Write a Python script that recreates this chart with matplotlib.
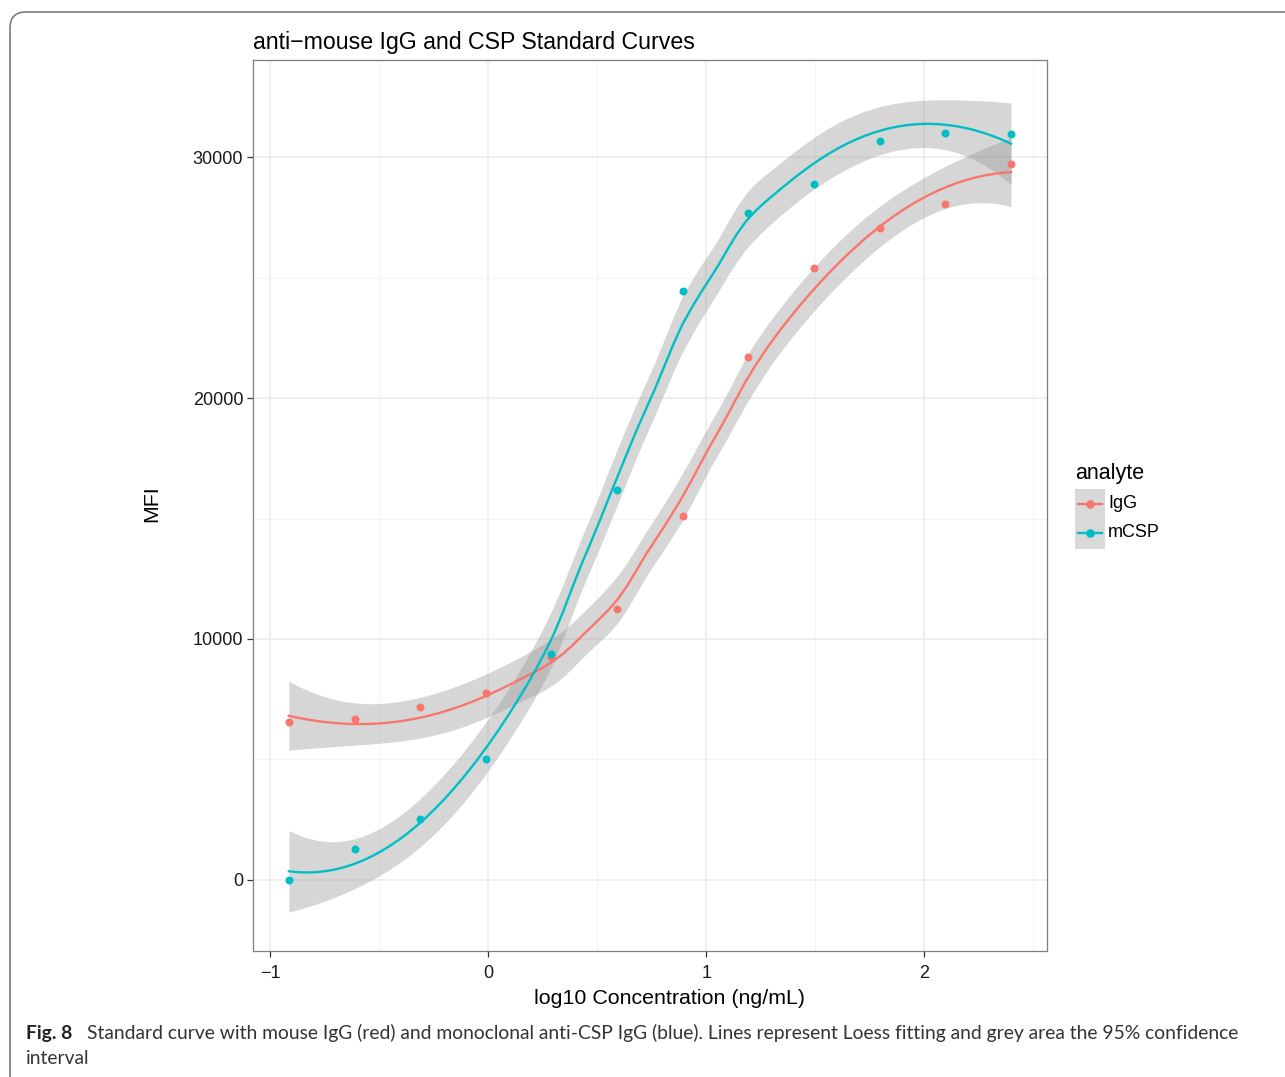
"""Standard curves for anti-mouse IgG and CSP with loess fits"""

import math

import numpy as np
import matplotlib
matplotlib.use("Agg")
import matplotlib.pyplot as plt
from matplotlib.patches import FancyBboxPatch, Rectangle
from matplotlib.lines import Line2D
from matplotlib.transforms import IdentityTransform

# two-fold dilution series, ng/mL
conc_ng_ml = [250, 125, 62.5, 31.25, 15.625, 7.8125, 3.90625, 1.953125,
              0.9765625, 0.48828125, 0.244140625, 0.1220703125]
igg_mfi = [29710, 28050, 27054, 25394, 21701, 15104, 11245, 9253,
           7759, 7178, 6680, 6556]
mcsp_mfi = [30954, 30996, 30664, 28880, 27676, 24440, 16183, 9378,
            5021, 2531, 1286, 0]

analytes = ["IgG", "mCSP"]
colors = {"IgG": "#F8766D", "mCSP": "#00BFC4"}

x_ticks = [-1, 0, 1, 2]
x_tick_labels = ["\u22121", "0", "1", "2"]
y_ticks = [0, 10000, 20000, 30000]

W, H = 1285, 1077
DPI = 100
FONT = "Liberation Sans"


def t_quantile(p, df):
    """Student t quantile via bisection on a numerically integrated cdf."""
    c = math.exp(math.lgamma((df + 1) / 2) - math.lgamma(df / 2)) / math.sqrt(df * math.pi)

    def cdf(t):
        u = np.linspace(0, t, 4001)
        f = c * (1 + u**2 / df) ** (-(df + 1) / 2)
        return 0.5 + np.trapezoid(f, u)

    lo, hi = 0.0, 50.0
    for _ in range(80):
        mid = 0.5 * (lo + hi)
        if cdf(mid) < p:
            lo = mid
        else:
            hi = mid
    return 0.5 * (lo + hi)


def loess(x, y, xs, span=0.75, level=0.95):
    """Local quadratic fit with tricube weights, like R's loess defaults."""
    n = len(x)
    q = int(np.floor(n * span))

    def operator_row(x0):
        d = np.abs(x - x0)
        h = np.sort(d)[q - 1] * 1.0001
        u = np.clip(d / h, 0, 1)
        w = (1 - u**3) ** 3
        X = np.column_stack([np.ones(n), x - x0, (x - x0) ** 2])
        XtW = X.T * w
        return np.linalg.solve(XtW @ X, XtW)[0]

    L = np.array([operator_row(xi) for xi in x])
    Ls = np.array([operator_row(xi) for xi in xs])
    fit = Ls @ y

    R = np.eye(n) - L
    M = R.T @ R
    one_delta = np.trace(M)
    two_delta = np.trace(M @ M)
    sigma = np.sqrt(np.sum((y - L @ y) ** 2) / one_delta)
    se = sigma * np.sqrt(np.sum(Ls**2, axis=1))
    t = t_quantile(0.5 + level / 2, one_delta**2 / two_delta)
    return fit, fit - t * se, fit + t * se


def px(x, y):
    """pixel position (from top-left) to figure fraction"""
    return x / W, 1 - y / H


x = np.log10(np.array(conc_ng_ml))
series = {"IgG": np.array(igg_mfi, float), "mCSP": np.array(mcsp_mfi, float)}
xs = np.linspace(x.min(), x.max(), 80)

fig = plt.figure(figsize=(W / DPI, H / DPI), dpi=DPI)
l, b = px(253, 951)
r, t = px(1047, 60)
ax = fig.add_axes([l, b, r - l, t - b])

for name in analytes:
    fit, lo, hi = loess(x, series[name], xs)
    ax.fill_between(xs, lo, hi, color="#999999", alpha=0.4, lw=0, zorder=2)
    ax.plot(xs, fit, color=colors[name], lw=1.7, zorder=3)
for name in analytes:
    ax.scatter(x, series[name], s=33, color=colors[name], lw=0, zorder=4)

ax.set_xlim(-1.078, 2.563)
ax.set_ylim(-2950, 34030)
ax.set_xticks(x_ticks)
ax.set_xticklabels(x_tick_labels)
ax.set_yticks(y_ticks)
ax.set_xticks([-0.5, 0.5, 1.5, 2.5], minor=True)
ax.set_yticks([5000, 15000, 25000], minor=True)
ax.grid(which="major", color="#ebebeb", lw=1.1, zorder=0)
ax.grid(which="minor", color="#f2f2f2", lw=0.6, zorder=0)
ax.set_axisbelow(True)
for s in ax.spines.values():
    s.set_color("#7f7f7f")
    s.set_linewidth(0.9)
ax.tick_params(which="major", length=4, width=0.9, color="#333333",
               labelsize=13, labelcolor="#1a1a1a")
ax.tick_params(axis="x", which="major", pad=6)
ax.tick_params(axis="y", which="major", pad=3)
ax.tick_params(which="minor", length=0)
for lab in ax.get_xticklabels() + ax.get_yticklabels():
    lab.set_family(FONT)

fig.text(*px(669, 998), "log10 Concentration (ng/mL)", fontsize=15.4, family=FONT,
         ha="center", va="center")
fig.text(*px(152, 504), "MFI", fontsize=15.4, family=FONT, rotation=90,
         ha="center", va="center")
ax.set_title("anti\u2212mouse IgG and CSP Standard Curves", fontsize=16.7,
             family=FONT, loc="left", pad=8)

# legend: grey key background with line + point glyphs
kx, ky = px(1075, 549)
kx2, ky2 = px(1105, 489)
fig.add_artist(Rectangle((kx, ky), kx2 - kx, ky2 - ky, transform=fig.transFigure,
                         facecolor="#d9d9d9", edgecolor="none"))
fig.text(*px(1075, 474), "analyte", fontsize=15.5, family=FONT, va="center")
for name, yy in zip(analytes, [504, 533]):
    x0, y0 = px(1078, yy)
    x1, _ = px(1102, yy)
    fig.add_artist(Line2D([x0, x1], [y0, y0], transform=fig.transFigure,
                          color=colors[name], lw=1.7))
    fig.add_artist(Line2D([(x0 + x1) / 2], [y0], transform=fig.transFigure,
                          color=colors[name], marker="o", ms=6.2, mew=0, lw=0))
    fig.text(*px(1108, yy), name, fontsize=13, family=FONT, va="center")

# journal frame and caption
fig.add_artist(FancyBboxPatch((10, -30), 1320, H - 12 + 30, transform=IdentityTransform(),
                              boxstyle="round,pad=0,rounding_size=16",
                              facecolor="none", edgecolor="#707070", lw=1.1))
fig.text(*px(26, 1033), "Fig. 8", fontsize=13.9, family="Lato", weight="bold",
         color="#222222", va="center")
fig.text(*px(87, 1033),
         "Standard curve with mouse IgG (red) and monoclonal anti-CSP IgG (blue). "
         "Lines represent Loess fitting and grey area the 95% confidence",
         fontsize=13.9, family="Lato", color="#333333", va="center")
fig.text(*px(26, 1059), "interval", fontsize=13.9, family="Lato", color="#333333", va="center")

fig.savefig("out.png", dpi=DPI)
